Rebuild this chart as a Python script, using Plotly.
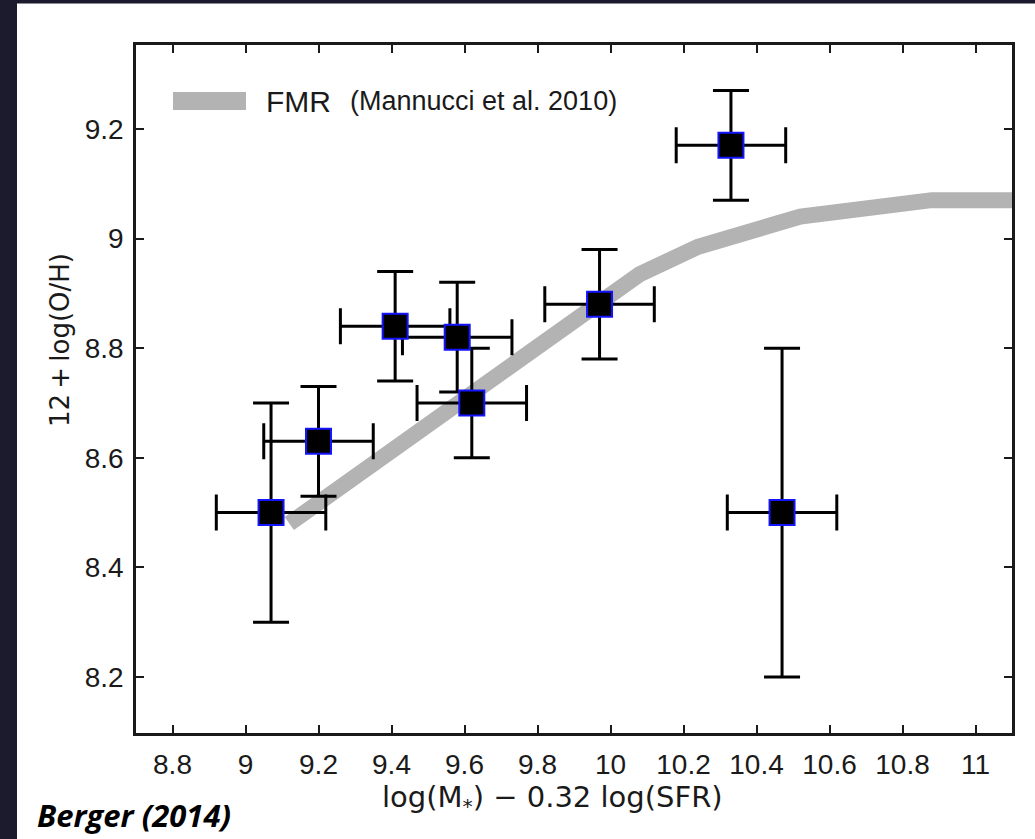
import plotly.graph_objects as go

# ---- data ----
x_vals = [9.07, 9.20, 9.41, 9.58, 9.62, 9.97, 10.33, 10.47]
y_vals = [8.50, 8.63, 8.84, 8.82, 8.70, 8.88, 9.17, 8.50]
x_err = [0.15, 0.15, 0.15, 0.15, 0.15, 0.15, 0.15, 0.15]
y_err = [0.20, 0.10, 0.10, 0.10, 0.10, 0.10, 0.10, 0.30]

fmr_x = [9.12, 9.60, 9.91, 10.08, 10.24, 10.52, 10.88, 11.15]
fmr_y = [8.48, 8.71, 8.86, 8.935, 8.985, 9.04, 9.07, 9.07]

x_ticks = [8.8, 9.0, 9.2, 9.4, 9.6, 9.8, 10.0, 10.2, 10.4, 10.6, 10.8, 11.0]
x_ticktext = ["8.8", "9", "9.2", "9.4", "9.6", "9.8", "10", "10.2", "10.4", "10.6", "10.8", "11"]
y_ticks = [8.2, 8.4, 8.6, 8.8, 9.0, 9.2]
y_ticktext = ["8.2", "8.4", "8.6", "8.8", "9", "9.2"]

# ---- layout geometry (pixels) ----
W, H = 1035, 839
ML, MR, MT, MB = 136, 23, 45, 106
PW, PH = W - ML - MR, H - MT - MB


def px(xp):
    return (xp - ML) / PW


def py(yp):
    return (H - MB - yp) / PH


DARK = "#1c1b2e"
AXC = "#1a1a1a"

fig = go.Figure()

fig.add_trace(go.Scatter(
    x=fmr_x, y=fmr_y, mode="lines",
    line=dict(color="#b3b3b3", width=16),
    hoverinfo="skip", showlegend=False,
))

fig.add_trace(go.Scatter(
    x=x_vals, y=y_vals, mode="markers",
    marker=dict(symbol="square", size=25, color="black",
                line=dict(color="#1414ff", width=2)),
    error_x=dict(type="data", array=x_err, color="black", thickness=3, width=18),
    error_y=dict(type="data", array=y_err, color="black", thickness=3, width=18),
    showlegend=False,
))

axis_common = dict(
    showline=True, linecolor=AXC, linewidth=2.5, mirror="ticks",
    ticks="inside", ticklen=8, tickwidth=2, tickcolor=AXC,
    showgrid=False, zeroline=False,
    tickfont=dict(family="Liberation Sans, Arial", size=28, color=AXC),
)

fig.update_xaxes(range=[8.7, 11.1], tickvals=x_ticks, ticktext=x_ticktext,
                 ticklabelstandoff=5, **axis_common)
fig.update_yaxes(range=[8.098, 9.353], tickvals=y_ticks, ticktext=y_ticktext,
                 ticklabelstandoff=4, **axis_common)

shapes = [
    # dark frame strips
    dict(type="rect", xref="paper", yref="paper", x0=px(-5), x1=px(17), y0=py(H + 5), y1=py(-5),
         fillcolor=DARK, line=dict(width=0), layer="above"),
    dict(type="rect", xref="paper", yref="paper", x0=px(-5), x1=px(W + 5), y0=py(3.5), y1=py(-5),
         fillcolor=DARK, line=dict(width=0), layer="above"),
    # legend sample
    dict(type="line", xref="paper", yref="paper", x0=px(173), x1=px(246), y0=py(101), y1=py(101),
         line=dict(color="#b3b3b3", width=18)),
]

annotations = [
    dict(xref="paper", yref="paper", x=px(264), y=py(101), xanchor="left", yanchor="middle",
         text="FMR", showarrow=False,
         font=dict(family="Liberation Sans, Arial", size=30, color=AXC)),
    dict(xref="paper", yref="paper", x=px(348), y=py(101), xanchor="left", yanchor="middle",
         text="(Mannucci et al. 2010)", showarrow=False,
         font=dict(family="Liberation Sans, Arial", size=27, color=AXC)),
    dict(xref="paper", yref="paper", x=px(552), y=py(799), xanchor="center", yanchor="middle",
         text="log(M<sub>*</sub>) \u2212 0.32 log(SFR)", showarrow=False,
         font=dict(family="DejaVu Sans", size=29, color=AXC)),
    dict(xref="paper", yref="paper", x=px(60), y=py(340), xanchor="center", yanchor="middle",
         text="12\u2009+\u2009log(O/H)", textangle=-90, showarrow=False,
         font=dict(family="DejaVu Sans", size=26, color=AXC)),
    dict(xref="paper", yref="paper", x=px(35), y=py(815), xanchor="left", yanchor="middle",
         text="Berger (2014)", showarrow=False,
         font=dict(family="Open Sans", size=31, color="black", weight="bold", style="italic")),
]

fig.update_layout(
    width=W, height=H,
    margin=dict(l=ML, r=MR, t=MT, b=MB, pad=0),
    paper_bgcolor="white", plot_bgcolor="white",
    shapes=shapes, annotations=annotations,
    showlegend=False,
)

fig.write_html("out.html")
